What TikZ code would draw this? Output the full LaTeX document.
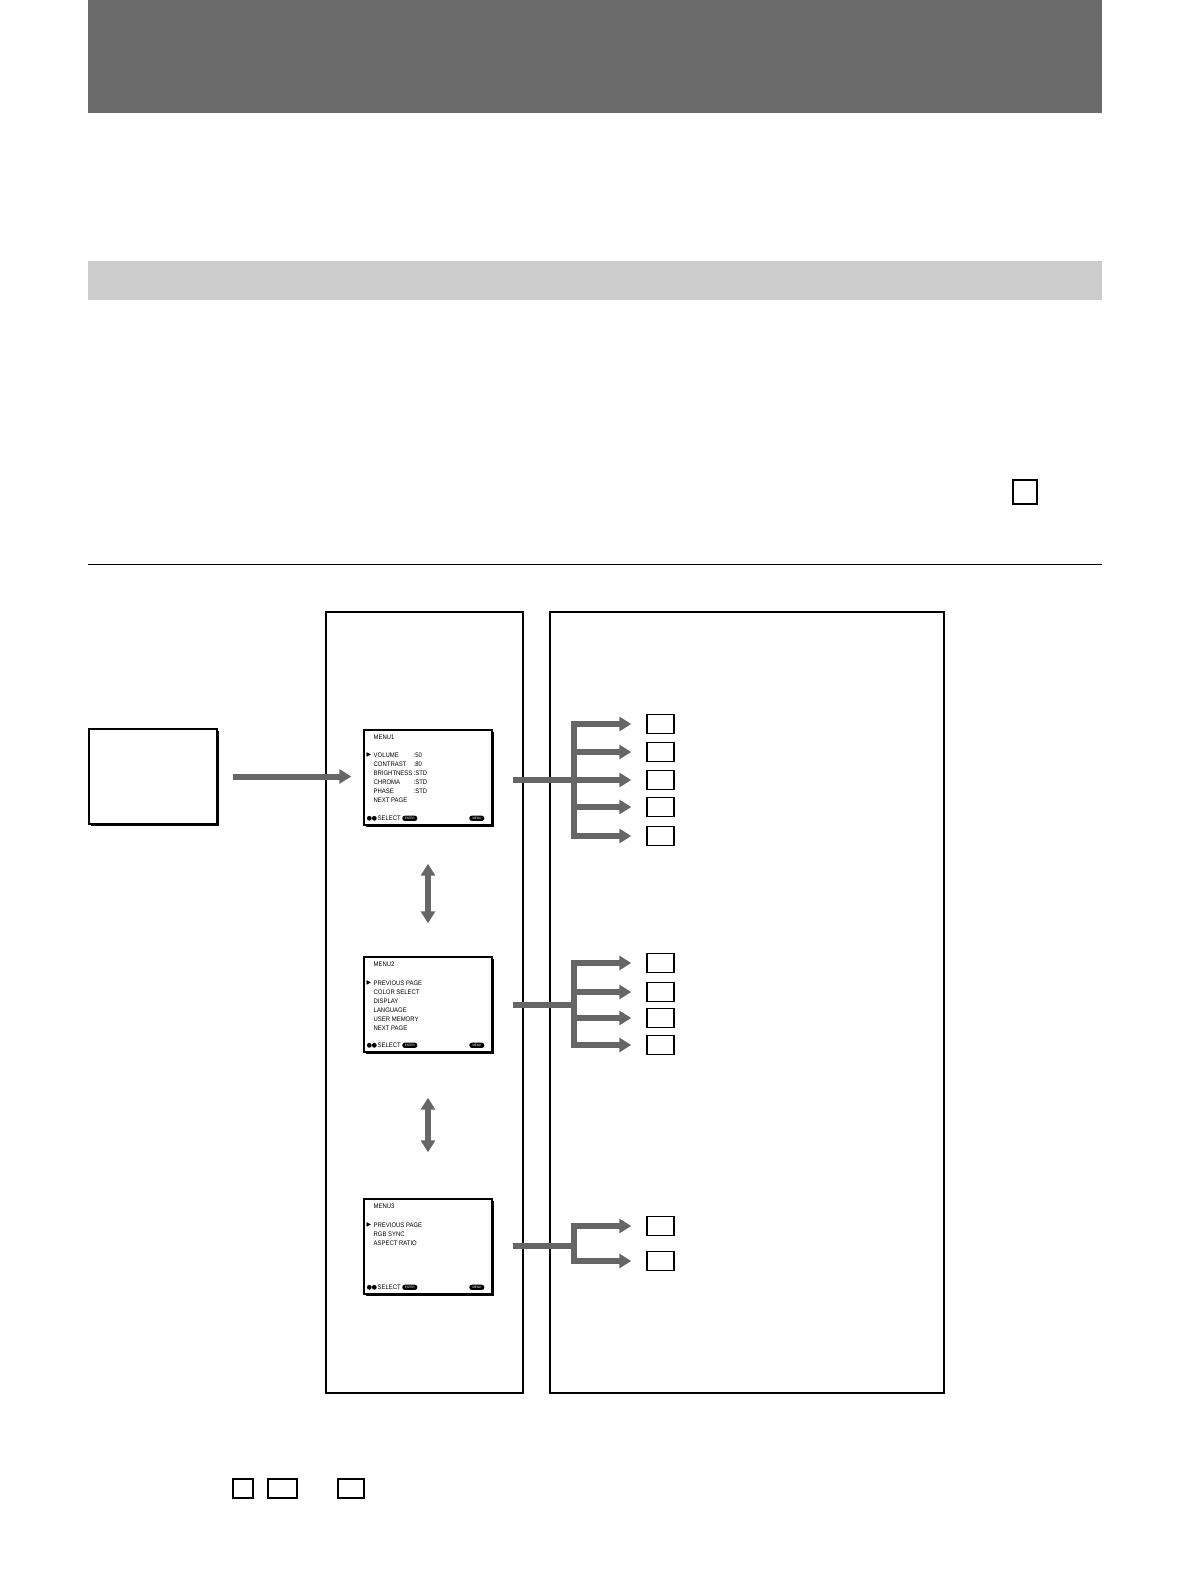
\documentclass[tikz,border=0pt]{standalone}
\usepackage{fontspec}
\usetikzlibrary{arrows.meta,calc,shadows}
\newfontfamily\menufont[FakeStretch=0.9]{Liberation Sans}
\newfontfamily\symfont{DejaVu Sans}
\definecolor{bannergray}{HTML}{6B6B6B}
\definecolor{bargray}{HTML}{CCCCCC}
\definecolor{arrowgray}{HTML}{666666}
\tikzset{
  screen/.style={draw=black, line width=0.7pt, fill=white, minimum width=64pt, minimum height=47.5pt, inner sep=0pt,
    drop shadow={shadow xshift=0.9pt, shadow yshift=-0.9pt, fill=black, opacity=1}},
  keybox/.style={draw=black, line width=0.7pt, minimum width=13.5pt, minimum height=9.5pt, inner sep=0pt},
  fat/.style={draw=arrowgray, line width=3pt},
  menutxt/.style={anchor=west, inner sep=0pt, font=\menufont\fontsize{3.3pt}{4pt}\selectfont},
  marktxt/.style={anchor=west, inner sep=0pt, font=\symfont\fontsize{3pt}{3pt}\selectfont},
  pill/.style={fill=black, rounded corners=1.2pt, minimum width=7.5pt, minimum height=2.6pt, inner sep=0pt,
    text=white, font=\menufont\fontsize{1.6pt}{2pt}\selectfont}
}

\begin{document}
\begin{tikzpicture}[x=0.5pt, y=-0.5pt, >={Triangle[length=6pt,width=7pt]}]
\useasboundingbox (0,0) rectangle (1190,1588);

% page heading bars
\fill[bannergray] (88,0) rectangle (1102,113);
\fill[bargray] (88,261) rectangle (1102,300);
\draw[line width=0.7pt] (1013,480) rectangle (1037,504);
\draw[line width=0.5pt] (88,564) -- (1102,564);

% panels
\draw[line width=0.7pt] (326,612) rectangle (523,1393);
\draw[line width=0.7pt] (550,612) rectangle (944,1393);

% screens
\node[screen] (tv) at (153,776.5) {};
\node[screen] (menuA) at (428,777.5) {};
\node[screen] (menuB) at (428,1004.5) {};
\node[screen] (menuC) at (428,1246.5) {};

\foreach \m/\t/\d in {menuA/MENU1/26, menuB/MENU2/27, menuC/MENU3/27} {
  \node[menutxt] (\m-title) at ($(\m.north west)+(10,8)$) {\t};
  \node[marktxt] (\m-mark) at ($(\m.north west)+(3,\d)$) {▶};
  \fill ($(\m.north west)+(6,89)$) circle[radius=1.2pt];
  \fill ($(\m.north west)+(11,89)$) circle[radius=1.2pt];
  \node[menutxt] (\m-select) at ($(\m.north west)+(14,89)$) {SELECT};
  \node[pill] (\m-enter) at ($(\m.north west)+(46.5,89)$) {ENTER};
  \node[pill] (\m-menu) at ($(\m.north west)+(113.5,89)$) {MENU};
}

% menu items
\foreach \txt [count=\i from 0] in {VOLUME,CONTRAST,BRIGHTNESS,CHROMA,PHASE,NEXT PAGE}
  \node[menutxt] (itemA\i) at ($(menuA.north west)+(10,26+8.9*\i)$) {\txt};
\foreach \v [count=\i from 0] in {:50,:80,:STD,:STD,:STD}
  \node[menutxt] (valA\i) at ($(menuA.north west)+(50,26+8.9*\i)$) {\v};
\foreach \txt [count=\i from 0] in {PREVIOUS PAGE,COLOR SELECT,DISPLAY,LANGUAGE,USER MEMORY,NEXT PAGE}
  \node[menutxt] (itemB\i) at ($(menuB.north west)+(10,27+8.9*\i)$) {\txt};
\foreach \txt [count=\i from 0] in {PREVIOUS PAGE,RGB SYNC,ASPECT RATIO}
  \node[menutxt] (itemC\i) at ($(menuC.north west)+(10,27+8.9*\i)$) {\txt};

% arrows between screens
\draw[fat, ->, shorten <=7.5pt, shorten >=6pt] (tv.east) -- (tv.east -| menuA.west);
\draw[fat, <->, shorten <=19pt, shorten >=16.5pt] (menuA.south) -- (menuB.north);
\draw[fat, <->, shorten <=22.5pt, shorten >=23pt] (menuB.south) -- (menuC.north);

% key boxes
\foreach \y [count=\i] in {724,752,780,807,836}
  \node[keybox] (keyA\i) at (660.5,\y) {};
\foreach \y [count=\i] in {963,992,1018,1045}
  \node[keybox] (keyB\i) at (660.5,\y) {};
\foreach \y [count=\i] in {1226,1261}
  \node[keybox] (keyC\i) at (660.5,\y) {};

% forks
\coordinate (forkA) at (574,780);
\coordinate (forkB) at (574,1005);
\coordinate (forkC) at (574,1246);
\draw[fat] ([xshift=10pt]menuA.east |- forkA) -- (forkA);
\draw[fat] ([xshift=10pt]menuB.east |- forkB) -- (forkB);
\draw[fat] ([xshift=10pt]menuC.east |- forkC) -- (forkC);
\draw[fat, line cap=rect] (keyA1 -| forkA) -- (keyA5 -| forkA);
\draw[fat, line cap=rect] (keyB1 -| forkB) -- (keyB4 -| forkB);
\draw[fat, line cap=rect] (keyC1 -| forkC) -- (keyC2 -| forkC);
\foreach \i in {1,...,5}
  \draw[fat, ->, shorten >=7.5pt] (keyA\i -| forkA) -- (keyA\i);
\foreach \i in {1,...,4}
  \draw[fat, ->, shorten >=7.5pt] (keyB\i -| forkB) -- (keyB\i);
\foreach \i in {1,2}
  \draw[fat, ->, shorten >=7.5pt] (keyC\i -| forkC) -- (keyC\i);

% keys in the note
\node[keybox, minimum width=10pt] (noteA) at (243,1488.5) {};
\node[keybox, minimum width=14.5pt] (noteB) at (282.5,1488.5) {};
\node[keybox, minimum width=13pt] (noteC) at (351,1488.5) {};
\end{tikzpicture}
\end{document}
